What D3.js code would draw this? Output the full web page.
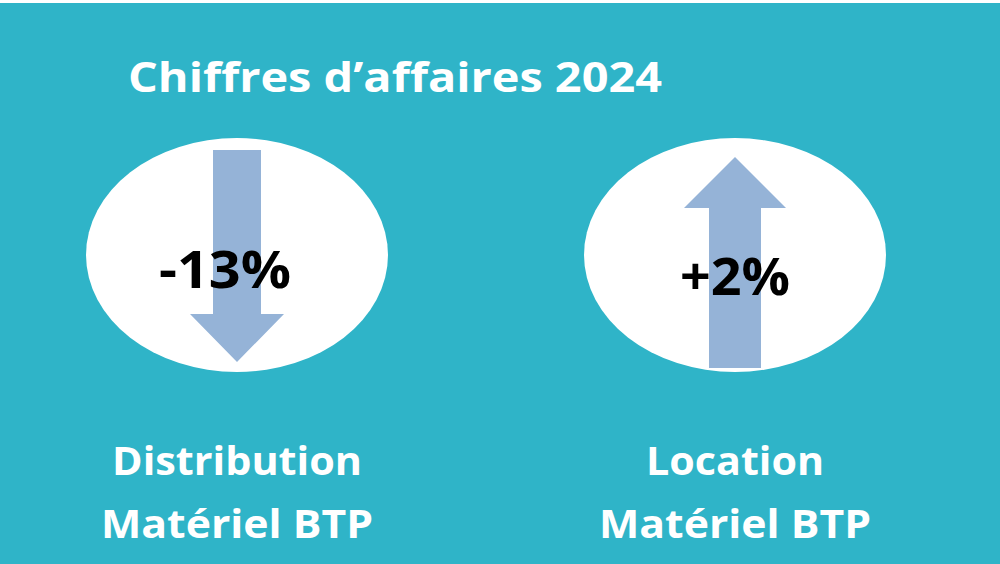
<!DOCTYPE html><html><head><meta charset="utf-8">
<script src="https://cdn.jsdelivr.net/npm/d3@7"></script>
<style>body{margin:0;background:#fff}</style></head><body>
<script>
const title = "Chiffres d’affaires 2024";
const categories = ["Distribution|Matériel BTP", "Location|Matériel BTP"];
const values = [-13, 2];
const labels = ["-13%", "+2%"];

const W=1000,H=564;
const svg=d3.select("body").append("svg").attr("width",W).attr("height",H);
svg.append("rect").attr("x",0).attr("y",3).attr("width",W).attr("height",H-3).attr("fill","#2fb4c8");
const x=d3.scalePoint().domain(categories).range([237,735]);
const font="'Open Sans', sans-serif";
svg.append("text").attr("x",395).attr("y",92).attr("text-anchor","middle").attr("fill","#fff")
  .attr("font-family",font).attr("font-weight",700).attr("font-size",42)
  .attr("textLength",534).attr("lengthAdjust","spacingAndGlyphs").text(title);
const g=svg.selectAll("g.c").data(categories).join("g").attr("transform",d=>`translate(${x(d)},0)`);
g.append("ellipse").attr("cx",0).attr("cy",255).attr("rx",151).attr("ry",117).attr("fill","#fff");
g.append("path").attr("fill","#95b3d7").attr("d",(d,i)=>{
  const v=values[i];
  if(v<0) return "M-24,150L24,150L24,314L47,314L0,362L-47,314L-24,314Z";
  return "M-26,368L26,368L26,208L51,208L0,157L-51,208L-26,208Z";
});
g.append("text").attr("x",(d,i)=>values[i]<0?-12:0).attr("y",(d,i)=>values[i]<0?288:295).attr("text-anchor","middle")
  .attr("font-family",font).attr("font-weight",700).attr("font-size",52).attr("fill","#000")
  .attr("textLength",(d,i)=>values[i]<0?132:110).attr("lengthAdjust","spacingAndGlyphs").text((d,i)=>labels[i]);
g.each(function(d){
  const parts=d.split("|");
  d3.select(this).selectAll("text.l").data(parts).join("text").attr("class","l")
   .attr("x",0).attr("y",(p,j)=>475+j*63).attr("text-anchor","middle").attr("fill","#fff")
   .attr("font-family",font).attr("font-weight",700).attr("font-size",40)
   .attr("textLength",p=>p.startsWith("Mat")?272:(p.startsWith("Dis")?250:178))
   .attr("lengthAdjust","spacingAndGlyphs").text(p=>p);
});
</script></body></html>
